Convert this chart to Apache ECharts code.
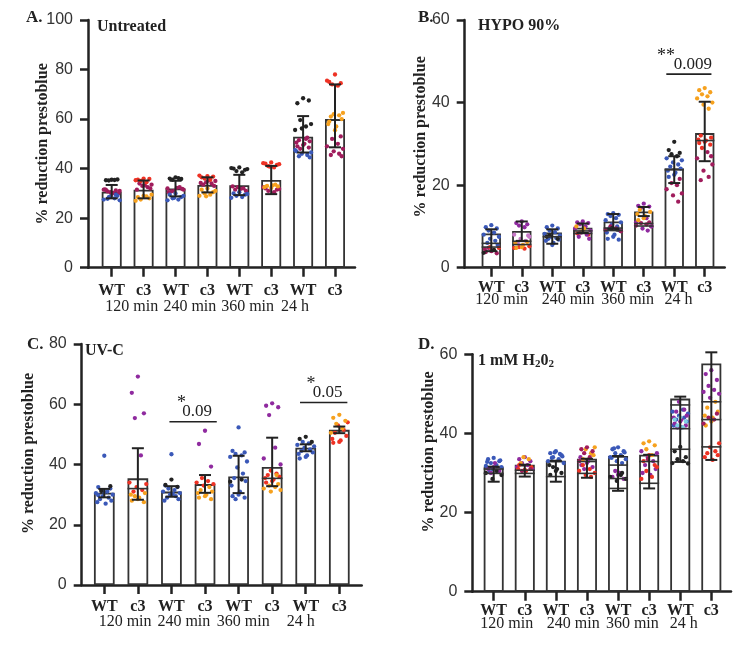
<!DOCTYPE html>
<html><head><meta charset="utf-8">
<script src="https://cdn.jsdelivr.net/npm/echarts@6/dist/echarts.min.js"></script>
<style>html,body{margin:0;padding:0;background:#fff}#c{width:747px;height:651px}</style>
</head><body><div id="c"></div>
<script>
// ---------- data ----------
const categories = ['WT','c3','WT','c3','WT','c3','WT','c3'];
const timeLabels = ['120 min','240 min','360 min','24 h'];
const yMax = {A:100, B:60, C:80, D:60};
const yInterval = 20;
const panelTitles = {A:'Untreated', B:'HYPO 90%', C:'UV-C', D:'1 mM H2O2'};
const yName = '% reduction prestoblue';

// Panel A
const meanA  = [30.7, 31.5, 32.0, 33.4, 33.3, 35.4, 52.9, 60.0];
const errLoA = [28.0, 28.0, 28.8, 30.4, 29.3, 29.7, 46.5, 48.6];
const errHiA = [33.4, 35.2, 35.1, 36.5, 37.5, 41.1, 61.2, 74.0];
const innerA = [[],[],[],[],[],[],[],[]];
const pointsA = [
  [['K',[35.5,35.3,35.6,35.2,35.4]],['M',[31.5,31,30.5,31.2,30.8,30,31.6,30.2,29.8,31.4]],['B',[29,28.5,28,27.5,27.2,28.8,29.5,27.8]]],
  [['R',[36,35.5,35.8,35,34.5,35.3]],['M',[33.5,33,32.5,34,32,31.5,33.2]],['O',[29,28.5,28,27.5,28.8,27,29.5]]],
  [['K',[36.5,36,35.8,35.5,36.2]],['M',[32,31.5,31,32.5,30.8,31.8,30.5,32.2]],['B',[30,29.5,28.5,28,27.5,27.2,29,28.2]]],
  [['R',[37,36.5,36.8,36,35.5,37.2]],['M',[35,34.5,34,33.5,33,34.2,35.2]],['O',[32,31.5,30.5,30,29.5,29,31,28.8]]],
  [['K',[40.5,40,39.5,39,38.5,40.2,39.8]],['M',[32.5,32,31.5,31,32.8,31.8]],['B',[30.5,30,29.5,29,28.5,28.2,29.8]]],
  [['R',[42.5,42,41.5,41,40.5,42.2,41.8,40.8]],['O',[33.5,33,32.8,32.5,33.2,32.2]],['M',[32,31.5,31,30.5,32.5,31.8]]],
  [['K',[68.4,66.4,67.5,59.6,57,55.6,58,56.2]],['M',[52.5,51.5,51,50.5,50,49.5,49,48.5,48,52]],['B',[47.5,46.5,46,45.5,45,44.5,47]]],
  [['R',[78,75,74.5,74,73.5,75.5]],['O',[62.5,62,61.5,61,60,58,57,55.5,59]],['M',[53,52,50,49,48,47,46,45.5,45]]]
];
const sigA = [];

// Panel B
const meanB  = [8.3, 8.9, 8.5, 9.7, 11.2, 13.6, 24.1, 32.6];
const errLoB = [4.0, 6.5, 5.8, 8.4, 9.4, 12.5, 20.5, 25.8];
const errHiB = [9.3, 11.2, 9.3, 10.7, 13.0, 14.7, 27.0, 40.2];
const innerB = [[5.9,5.0],[6.4,5.6],[7.5],[8.9,8.3],[9.6,9.0],[10.7,10.1],[23.7],[30.8]];
const pointsB = [
  [['B',[10.3,9.8,9.5,9,8.5,8,7.5,7,6.5,6,5.5]],['M',[4.5,4.2,4,3.8,3.5,4.8]],['K',[4.3,3.6]],['R',[4.8,5]]],
  [['P',[11.2,10.8,10.5,10.2,9.8]],['Pk',[8,7.5,7,6.5,6,7.8]],['O',[6,5.5,5,4.8,6.2]],['R',[5,4.6,4.8,5.2]]],
  [['B',[10.2,9.8,9.5,9,8.6,8.2,7.8,7.5,7.2,7,6.8,6.5,6,5.5]],['K',[7.5,7,7.8]]],
  [['P',[11.2,11,10.8,10.5,10,9.5,9,8.5,8,7.5,7]],['O',[10,9.5,9]],['R',[8.3,8,8.5]]],
  [['B',[13.2,13,12.8,12.5,12,11.5,11,10.5,10,9.5,9,8.5,8,7.5,7,6.8]],['M',[10,9.5,9.2,8.8]],['K',[9.6,9.2]]],
  [['P',[15.5,15,14.8,14.5,12,11,10,9.5,9]],['O',[14,13.5,13,12.5,12,11.5]],['M',[11,10.8,10.5,10.2,10]]],
  [['K',[30.5,28.5,27.8,27.5,27]],['B',[26.5,26,25.5,25,24.5,24,23.5,23,22.5,22]],['M',[21.5,20.5,20,19,18,17.5,16]]],
  [['O',[43.5,43,42.5,42,41.5,41,40,39.5,38.5]],['R',[32,31.5,31,30.8,30.5,30.2,29.8,29]],['M',[28,26.5,25,23.5,22,21.2,27]]]
];
// [from x, to x, line y, stars, p-value, stars x]
const sigB = [[5.74, 7.22, 46.9, '**', '0.009', 5.73]];

// Panel C
const meanC  = [30.6, 35.4, 31.0, 33.5, 36.0, 39.2, 45.6, 51.5];
const errLoC = [29.1, 28.3, 29.3, 30.6, 30.5, 32.8, 44.4, 50.4];
const errHiC = [31.9, 45.4, 32.8, 36.5, 42.9, 48.9, 46.7, 52.6];
const innerC = [[],[32],[],[],[],[35.4],[],[]];
const pointsC = [
  [['B',[42.9,32.5,32,31.5,31,30.5,30,29.5,29,28.5,28,27.5,27,30.8,29.8]],['K',[32.8,31.2]]],
  [['P',[69.2,63.8,57,55.4,43]],['R',[34,33.5,32.5,31.5,31]],['O',[30.5,30,29,28.5,28,27.5,29.5]]],
  [['B',[43.4,33,32.5,32,31.5,31,30.5,30,29.5,29,28.5,28,30.2]],['K',[35,33.2,32.6]]],
  [['P',[51.2,46.8,39.3]],['R',[35.5,34.5,34,33.5,33]],['O',[32.5,31.5,31,30.5,30,29.5,29,28.5]]],
  [['B',[52.3,44.5,44,43.5,43,42.5,41,39,37,35.5,34.5,33,31,30,29.5,29,28.5]],['K',[35,34.3]]],
  [['P',[60.3,59.5,59,56.4,45.6,42,40]],['R',[38,37,36.5,36,35.5,35,34.5,34]],['O',[33.5,33,32.5,32,31.5,31,36.5]]],
  [['K',[49.2,48.5,47.5]],['B',[47.5,47,46.5,46,45.5,45,44.5,44,43.5,43,42.5,42]]],
  [['O',[56.5,55.5,54.5,53.5,52,50.5]],['R',[54,53,51.5,50.5,49.5,48.5,48,47.5,47.2]]]
];
const sigC = [[1.94, 3.35, 54.2, '*', '0.09', 2.3], [5.83, 7.24, 60.6, '*', '0.05', 6.16]];

// Panel D
const meanD  = [31.6, 32.1, 33.1, 33.6, 34.3, 34.6, 48.8, 57.7];
const errLoD = [27.8, 29.1, 27.8, 28.8, 25.5, 26.1, 32.8, 33.3];
const errHiD = [31.6, 32.1, 33.1, 33.6, 34.3, 34.6, 49.3, 60.5];
const innerD = [[31.0,29.9],[30.7,29.9],[29.1],[32.9,29.9],[32.0,28.6,26.1],[32.9,27.4],[47.2,41.2,36.0],[48.0,43.5,36.6]];
const pointsD = [
  [['B',[33.8,33.5,33,32.5,32,31.8,31.5,31,30.5,30.2,33.2,32.8]],['P',[32.5,31.5,31,30.5,30]],['K',[30.5,30,29.5,28.5]]],
  [['P',[34,33.5,33,32.5,32,31.5,31]],['O',[34,33.5,32.5]],['R',[31.5,31,30.5,30.8,32]],['M',[31,30.5]]],
  [['B',[35.5,35,34.5,34,33.5,33,32.5,35.2,34.8,33.8,34.2]],['K',[32,31,30.5,29.5,30,31.5]]],
  [['M',[36.5,36,35.5,35,34,33]],['O',[36.5,36,35,33.5,34.5]],['P',[34,33,32.5,32,31.5,31]],['R',[31,30.5,30,29.5,29,32]]],
  [['B',[36.5,36,35.5,35,34.5,34,33.5,33,32.5,36.2,35.2,33.8]],['P',[30,29.5,29,28.5,30.5]],['K',[29.5,29,28.5,28,30]]],
  [['O',[38,37.5,37,36,34.5]],['P',[35.5,35,34,33,32,31,30,29.5]],['R',[34.5,33,32,30.5,29,28.5,31.5]],['M',[33.5]]],
  [['K',[36.6,35.5,34,33.5,33,32.5,32.4]],['P',[48,46,45.5,44.5,44,43.5,43,42.5,42,41.5]],['B',[46,45.5,45,44.5,44,43.5,43,42,41.5]],['L',[44,43.5,43,42,41.5]]],
  [['P',[56,55,53.5,52,51,50.5,50,49]],['O',[48,46.5,45.5,44.5,44,43,42]],['M',[45,44,43.5,42.5]],['R',[37.5,36.5,35.5,35,34.5,34,33.3]]]
];
const sigD = [];

// ---------- styles / layout ----------
const colorMap = {K:'#222222', B:'#3a58b8', M:'#a01c5c', R:'#ee3224', O:'#f6a11e', P:'#8f2a9f', Pk:'#c778c6', L:'#7fd2e4'};
const jit = [0, -0.18, 0.18, -0.09, 0.09, -0.25, 0.25, -0.04, 0.13, -0.13, 0.21, -0.21, 0.04];
const SERIF = '"Liberation Serif", "Times New Roman", serif';
const SANS = '"Liberation Sans", Arial, sans-serif';
const INK = '#222';

const panels = [
  {key:'A', mean:meanA, lo:errLoA, hi:errHiA, inner:innerA, pts:pointsA, sig:sigA,
   grid:{left:88, top:20, width:267, height:247.7}, xmin:-0.743, xmax:7.627, barW:20,
   nameGap:37, namePad:0, labelMargin:15, timeMargin:31, timePos:[0.63,2.45,4.26,5.75],
   letter:[26,18], title:[97,27]},
  {key:'B', mean:meanB, lo:errLoB, hi:errHiB, inner:innerB, pts:pointsB, sig:sigB,
   grid:{left:464.7, top:20, width:260, height:247.7}, xmin:-0.872, xmax:7.655, barW:19.3,
   nameGap:36, namePad:14, labelMargin:12, timeMargin:24, timePos:[0.34,2.52,4.47,6.14],
   letter:[418,18], title:[478,26]},
  {key:'C', mean:meanC, lo:errLoC, hi:errHiC, inner:innerC, pts:pointsC, sig:sigC,
   grid:{left:81.7, top:344, width:280, height:241}, xmin:-0.673, xmax:7.667, barW:20.7,
   nameGap:44.5, namePad:22, labelMargin:14, timeMargin:29, timePos:[0.62,2.37,4.14,5.85],
   letter:[27,345], title:[85,351]},
  {key:'D', mean:meanD, lo:errLoD, hi:errHiD, inner:innerD, pts:pointsD, sig:sigD,
   grid:{left:472.3, top:354.3, width:258.7, height:237.4}, xmin:-0.688, xmax:7.633, barW:20,
   nameGap:35, namePad:42, labelMargin:11.5, timeMargin:24.5, timePos:[0.42,2.56,4.46,6.11],
   letter:[418,345], title:[478,361]}
];

const idx8 = [0,1,2,3,4,5,6,7];
const option = {animation:false, backgroundColor:'#fff', grid:[], xAxis:[], yAxis:[], series:[], graphic:[]};

panels.forEach((p, g) => {
  option.grid.push(Object.assign({containLabel:false}, p.grid));
  option.xAxis.push({
    type:'value', gridIndex:g, min:p.xmin, max:p.xmax, position:'bottom',
    axisLine:{show:true, onZero:false, lineStyle:{color:INK, width:2.5}},
    axisTick:{show:true, customValues:idx8, length:9, lineStyle:{color:INK, width:2.5}},
    axisLabel:{show:true, customValues:idx8, margin:p.labelMargin, color:INK,
      fontFamily:SERIF, fontWeight:'bold', fontSize:16,
      formatter:(v)=>categories[Math.round(v)]},
    splitLine:{show:false}
  });
  const tp = p.timePos;
  option.xAxis.push({
    type:'value', gridIndex:g, min:p.xmin, max:p.xmax, position:'bottom',
    axisLine:{show:false, onZero:false}, axisTick:{show:false}, splitLine:{show:false},
    axisLabel:{show:true, customValues:tp, margin:p.timeMargin, color:INK,
      fontFamily:SERIF, fontSize:16,
      formatter:(v)=>{const i = tp.findIndex(q=>Math.abs(q-v)<1e-6); return i>=0?timeLabels[i]:'';}}
  });
  option.yAxis.push({
    type:'value', gridIndex:g, min:0, max:yMax[p.key], interval:yInterval,
    axisLine:{show:true, onZero:false, lineStyle:{color:INK, width:2.5}},
    axisTick:{show:true, length:8, lineStyle:{color:INK, width:2.5}},
    axisLabel:{color:'#333', fontFamily:SANS, fontSize:16, margin:15},
    splitLine:{show:false},
    name:yName, nameLocation:'middle', nameGap:p.nameGap, nameMoveOverlap:false,
    nameTextStyle:{fontFamily:SERIF, fontWeight:'bold', fontSize:16, color:INK, padding:[0,0,0,p.namePad]}
  });
  const xi = g*2, yi = g;
  option.series.push({
    type:'bar', xAxisIndex:xi, yAxisIndex:yi, barWidth:p.barW, z:2,
    itemStyle:{color:'rgba(255,255,255,0)', borderColor:'#333', borderWidth:1.8},
    data:p.mean.map((v,i)=>[i,v])
  });
  const byColor = {};
  p.pts.forEach((groups, i) => {
    let k = 0;
    groups.forEach(([c, vals]) => {
      vals.forEach(v => {
        (byColor[c] = byColor[c] || []).push([i + jit[k % jit.length], v]);
        k++;
      });
    });
  });
  Object.keys(byColor).forEach(c => {
    option.series.push({
      type:'scatter', xAxisIndex:xi, yAxisIndex:yi, z:3, symbolSize:4.3,
      itemStyle:{color:colorMap[c], opacity:1}, data:byColor[c]
    });
  });
  const innerData = [];
  p.inner.forEach((arr,i)=>arr.forEach(v=>innerData.push([i,v])));
  const bw = p.barW;
  option.series.push({
    type:'custom', xAxisIndex:xi, yAxisIndex:yi, z:4, encode:{x:0,y:1},
    data:innerData,
    renderItem:(params, api)=>{
      const c = api.coord([api.value(0), api.value(1)]);
      return {type:'line', shape:{x1:c[0]-bw/2, y1:c[1], x2:c[0]+bw/2, y2:c[1]},
        style:{stroke:'#333', lineWidth:1.6}};
    }
  });
  option.series.push({
    type:'custom', xAxisIndex:xi, yAxisIndex:yi, z:5, encode:{x:0,y:[1,2]},
    data:p.mean.map((v,i)=>[i, p.lo[i], p.hi[i]]),
    renderItem:(params, api)=>{
      const a = api.coord([api.value(0), api.value(1)]);
      const b = api.coord([api.value(0), api.value(2)]);
      const cw = 6;
      const st = {stroke:INK, lineWidth:2};
      return {type:'group', children:[
        {type:'line', shape:{x1:a[0], y1:a[1], x2:b[0], y2:b[1]}, style:st},
        {type:'line', shape:{x1:a[0]-cw, y1:a[1], x2:a[0]+cw, y2:a[1]}, style:st},
        {type:'line', shape:{x1:b[0]-cw, y1:b[1], x2:b[0]+cw, y2:b[1]}, style:st}
      ]};
    }
  });
  if (p.sig.length) {
    const sig = p.sig;
    option.series.push({
      type:'custom', xAxisIndex:xi, yAxisIndex:yi, z:5, encode:{x:[0,1],y:2},
      data:sig.map(s=>[s[0], s[1], s[2], s[5]]),
      renderItem:(params, api)=>{
        const s = sig[params.dataIndex];
        const a = api.coord([api.value(0), api.value(2)]);
        const b = api.coord([api.value(1), api.value(2)]);
        const st = api.coord([api.value(3), api.value(2)]);
        return {type:'group', children:[
          {type:'line', shape:{x1:a[0], y1:a[1], x2:b[0], y2:b[1]}, style:{stroke:INK, lineWidth:1.6}},
          {type:'text', x:st[0], y:a[1]-18, style:{text:s[3], font:'18px '+SERIF, fill:INK, align:'center', verticalAlign:'middle'}},
          {type:'text', x:(a[0]+b[0])/2+4, y:a[1]-10, style:{text:s[4], font:'17px '+SERIF, fill:INK, align:'center', verticalAlign:'middle'}}
        ]};
      }
    });
  }
  option.graphic.push({type:'text', x:p.letter[0], y:p.letter[1],
    style:{text:p.key+'.', font:'bold 17px '+SERIF, fill:INK, verticalAlign:'middle', textVerticalAlign:'middle'}});
  if (p.key === 'D') {
    option.graphic.push({type:'text', x:p.title[0], y:p.title[1],
      style:{text:'{a|1 mM H}{s|2}{a|0}{s|2}', fill:INK, verticalAlign:'middle', textVerticalAlign:'middle',
        rich:{a:{font:'bold 16px '+SERIF, fill:INK, lineHeight:18},
              s:{font:'bold 11px '+SERIF, fill:INK, verticalAlign:'bottom', lineHeight:11}}}});
  } else {
    option.graphic.push({type:'text', x:p.title[0], y:p.title[1],
      style:{text:panelTitles[p.key], font:'bold 16px '+SERIF, fill:INK, verticalAlign:'middle', textVerticalAlign:'middle'}});
  }
});

const chart = echarts.init(document.getElementById('c'), null, {renderer:'canvas'});
chart.setOption(option);
</script>
</body></html>
